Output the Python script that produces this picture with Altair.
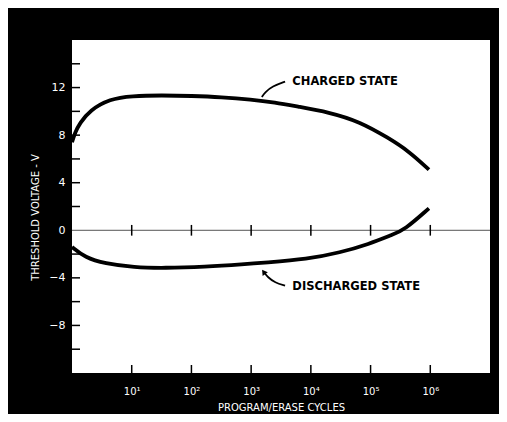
import altair as alt
import pandas as pd

# ---- data ----
charged_cycles = [1, 1.12, 1.35, 2, 4.3, 10, 32, 100, 320, 1000, 2500, 6000, 20000, 65000, 200000, 440000, 950000]
charged_volts = [7.4, 8.2, 9.0, 10.1, 11.05, 11.3, 11.35, 11.3, 11.2, 11.0, 10.75, 10.4, 9.93, 9.15, 7.76, 6.64, 5.1]

discharged_cycles = [1, 1.66, 3.5, 11, 35, 166, 780, 1660, 8700, 31000, 93000, 240000, 363000, 950000]
discharged_volts = [-1.4, -2.29, -2.79, -3.12, -3.18, -3.07, -2.85, -2.72, -2.43, -1.87, -1.17, -0.34, 0, 1.84]

x_tick_values = [10, 100, 1000, 10000, 100000, 1000000]
y_label_values = [-8, -4, 0, 4, 8, 12]
y_tick_values = [-10, -8, -6, -4, -2, 2, 4, 6, 8, 10, 12, 14]

label_text = ["CHARGED STATE", "DISCHARGED STATE"]
label_cycles = [4900, 4900]
label_volts = [12.5, -4.75]

charged_leader_cycles = [3700, 2250, 1710, 1510]
charged_leader_volts = [12.5, 12.1, 11.6, 11.2]
discharged_leader_cycles = [3700, 2500, 1900, 1620]
discharged_leader_volts = [-4.65, -4.4, -3.95, -3.5]

FONT = "DejaVu Sans"

curves = pd.DataFrame({
    "cycles": charged_cycles + discharged_cycles,
    "volts": charged_volts + discharged_volts,
    "series": ["charged"] * len(charged_cycles) + ["discharged"] * len(discharged_cycles),
})
leaders = pd.DataFrame({
    "cycles": charged_leader_cycles + discharged_leader_cycles,
    "volts": charged_leader_volts + discharged_leader_volts,
    "series": ["charged"] * 4 + ["discharged"] * 4,
})
labels = pd.DataFrame({"cycles": label_cycles, "volts": label_volts, "text": label_text})
xt = pd.DataFrame({"cycles": x_tick_values})
yt = pd.DataFrame({"volts": y_tick_values})
arrow = pd.DataFrame({"cycles": [discharged_leader_cycles[-1]], "volts": [discharged_leader_volts[-1]]})

xs = alt.Scale(type="log", domain=[1, 10000000], nice=False)
ys = alt.Scale(domain=[-12, 16], nice=False, zero=False)

xaxis = alt.Axis(
    values=x_tick_values,
    labelExpr="'10' + ['⁰','¹','²','³','⁴','⁵','⁶','⁷'][round(log(datum.value)/LN10)]",
    ticks=False, domain=False, grid=False,
    labelColor="white", labelFont=FONT, labelFontSize=10, labelPadding=13,
    title="PROGRAM/ERASE CYCLES", titleColor="white", titleFont=FONT,
    titleFontSize=10, titleFontWeight="normal", titleY=34, titleBaseline="middle",
)
yaxis = alt.Axis(
    values=y_label_values,
    ticks=False, domain=False, grid=False,
    labelColor="white", labelFont=FONT, labelFontSize=11, labelPadding=7,
    title="THRESHOLD VOLTAGE - V", titleColor="white", titleFont=FONT,
    titleFontSize=10, titleFontWeight="normal", titleX=-37, titleY=177,
    titleAlign="center", titleBaseline="middle", titleAngle=-90,
)

X = alt.X("cycles:Q", scale=xs, axis=xaxis)
Y = alt.Y("volts:Q", scale=ys, axis=yaxis)

zero_line = alt.Chart(pd.DataFrame({"volts": [0]})).mark_rule(color="#555", strokeWidth=1).encode(y=Y)

y_ticks = alt.Chart(yt).mark_rule(color="black", strokeWidth=1.5).encode(
    y=Y, x=alt.value(0), x2=alt.value(8))
x_ticks_bottom = alt.Chart(xt).mark_rule(color="black", strokeWidth=1.5).encode(
    x=X, y=alt.value(325), y2=alt.value(333))
x_ticks_zero = alt.Chart(xt).mark_rule(color="black", strokeWidth=1.5).encode(
    x=X, y=alt.datum(-0.45, scale=ys), y2=alt.datum(0.45))

lines = alt.Chart(curves).mark_line(color="black", strokeWidth=3.8, interpolate="basis").encode(
    x=X, y=Y, detail="series:N")

leader_lines = alt.Chart(leaders).mark_line(color="black", strokeWidth=1.8, interpolate="basis").encode(
    x=X, y=Y, detail="series:N")

arrowhead = alt.Chart(arrow).mark_point(shape="triangle-up", filled=True, color="black",
                                        size=40, angle=325, opacity=1).encode(x=X, y=Y)

text = alt.Chart(labels).mark_text(align="left", baseline="middle", font=FONT,
                                   fontSize=11.5, fontWeight="bold", color="black").encode(
    x=X, y=Y, text="text:N")

chart = alt.layer(zero_line, y_ticks, x_ticks_bottom, x_ticks_zero, lines, leader_lines,
                  arrowhead, text).properties(
    width=418, height=333,
    background="black",
    autosize=alt.AutoSizeParams(type="none"),
    padding={"left": 64, "top": 32, "right": 9, "bottom": 41},
).configure_view(fill="white", stroke="black", strokeWidth=0)

chart.save("out.html", embed_options={"renderer": "svg", "actions": False})
